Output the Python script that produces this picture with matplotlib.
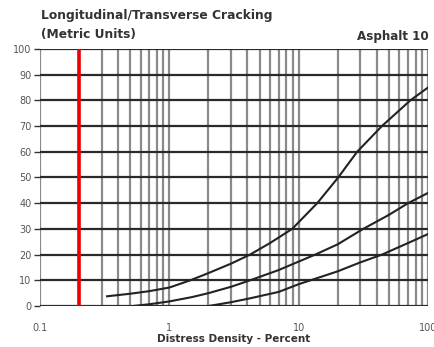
import matplotlib.pyplot as plt
from matplotlib.ticker import FixedLocator, NullFormatter

# datos
x_alta = [0.33, 0.5, 0.7, 1, 1.45, 2, 3, 4.2, 6, 8.9, 13.9, 20.2, 28.3, 44, 73, 100]
y_alta = [3.8, 4.8, 5.8, 7.2, 10, 12.8, 16.5, 20, 24.5, 30, 40, 50, 60, 70, 80, 85]

x_media = [0.52, 0.7, 1, 1.5, 2, 3, 4.2, 7, 13.4, 20, 31.5, 50, 70, 100]
y_media = [0, 0.7, 1.8, 3.5, 5, 7.5, 10, 14, 20, 24, 30, 35.5, 40, 44]

x_baja = [2, 3, 4.2, 7, 10, 20, 30, 44, 70, 100]
y_baja = [0, 1.5, 3, 5.5, 8.5, 13.5, 17, 20, 24.5, 28]

x_limite = 0.2

xticks = [0.1, 1, 10, 100]
xlabels = ["0.1", "1", "10", "100"]
yticks = list(range(0, 101, 10))

fig = plt.figure(figsize=(4.35, 3.47), dpi=100)
ax = fig.add_axes([0.092, 0.118, 0.892, 0.741])

ax.set_xscale("log")
ax.set_xlim(0.1, 100)
ax.set_ylim(0, 100)

# rejilla vertical (gris) y horizontal (oscura)
menores = [m * d for d in [0.1, 1, 10] for m in range(1, 10)] + [100]
for v in menores:
    ax.axvline(v, color="#8a8a8a", lw=1.6, zorder=1)
for h in yticks:
    ax.axhline(h, color="#2a2a2a", lw=1.6, zorder=1)

ax.axvline(x_limite, color="#ee0000", lw=2.6, zorder=3)

for xs, ys in [(x_alta, y_alta), (x_media, y_media), (x_baja, y_baja)]:
    ax.plot(xs, ys, color="#222222", lw=1.5, zorder=2)

ax.xaxis.set_major_locator(FixedLocator(xticks))
ax.set_xticklabels(xlabels)
ax.xaxis.set_minor_formatter(NullFormatter())
ax.tick_params(axis="x", which="both", length=0, labelsize=7, colors="#555555", pad=12)
ax.set_yticks(yticks)
ax.tick_params(axis="y", length=4, width=1, color="#333333", labelsize=7, labelcolor="#555555", pad=2)

for s in ax.spines.values():
    s.set_visible(False)

ax.set_xlabel("Distress Density - Percent", fontsize=7.5, fontweight="bold", color="#333333", labelpad=1)

fig.text(0.095, 0.975, "Longitudinal/Transverse Cracking\n(Metric Units)", ha="left", va="top",
         fontsize=8.8, fontweight="bold", color="#333333", linespacing=1.6)
fig.text(0.985, 0.895, "Asphalt 10", ha="right", va="center", fontsize=8.6, fontweight="bold", color="#333333")

fig.savefig("out.png", dpi=100)
